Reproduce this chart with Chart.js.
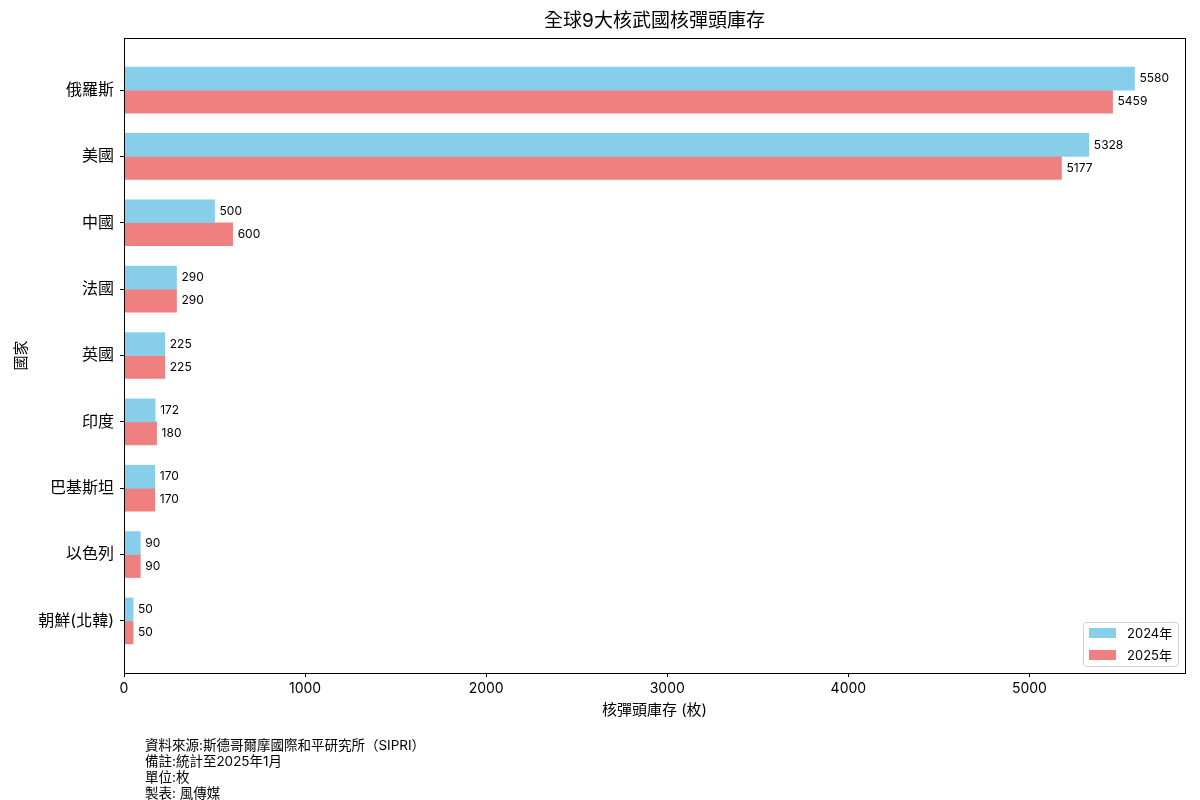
<!DOCTYPE html>
<html>
<head>
<meta charset="utf-8">
<script src="https://cdn.jsdelivr.net/npm/chart.js@4/dist/chart.umd.min.js"></script>
<style>
  html, body { margin: 0; padding: 0; background: #fff; }
  #wrap { width: 1200px; height: 800px; }
</style>
</head>
<body>
<div id="wrap"><canvas id="nukeChart" width="1200" height="800"></canvas></div>
<script>
const countries = ['俄羅斯', '美國', '中國', '法國', '英國', '印度', '巴基斯坦', '以色列', '朝鮮(北韓)'];
const stock2024 = [5580, 5328, 500, 290, 225, 172, 170, 90, 50];
const stock2025 = [5459, 5177, 600, 290, 225, 180, 170, 90, 50];
const xTicks = [0, 1000, 2000, 3000, 4000, 5000];
const notes = [
    '資料來源:斯德哥爾摩國際和平研究所（SIPRI）',
    '備註:統計至2025年1月',
    '單位:枚',
    '製表: 風傳媒',
];

const FONT = 'Inter, "Noto Sans CJK TC", sans-serif';
Chart.defaults.font.family = FONT;
Chart.defaults.color = '#000';

const toPoints = arr => arr.map((v, i) => ({ x: v, y: i }));

// box, title, value labels, legend and notes, matplotlib style
const extras = {
    id: 'extras',
    afterDatasetsDraw(chart) {
        const { ctx } = chart;
        ctx.save();
        ctx.font = '12px ' + FONT;
        ctx.fillStyle = '#000';
        ctx.textBaseline = 'middle';
        ctx.textAlign = 'left';
        chart.data.datasets.forEach((ds, di) => {
            chart.getDatasetMeta(di).data.forEach((bar, i) => {
                ctx.fillText(String(ds.data[i].x), bar.x + 5, bar.y);
            });
        });
        ctx.restore();
    },
    afterDraw(chart) {
        const { ctx, chartArea: a } = chart;
        ctx.save();
        ctx.strokeStyle = '#000';
        ctx.lineWidth = 1;
        ctx.strokeRect(Math.round(a.left) + 0.5, Math.round(a.top) + 0.5,
            Math.round(a.right - a.left), Math.round(a.bottom - a.top));

        ctx.fillStyle = '#000';
        ctx.textAlign = 'center';
        ctx.textBaseline = 'middle';
        ctx.font = '19px ' + FONT;
        ctx.fillText('全球9大核武國核彈頭庫存', (a.left + a.right) / 2, 21);

        // legend
        const lx = 1083, ly = 622, lw = 95, lh = 44;
        ctx.fillStyle = 'rgba(255,255,255,0.8)';
        ctx.strokeStyle = '#d0d0d0';
        ctx.beginPath();
        ctx.roundRect(lx + 0.5, ly + 0.5, lw, lh, 3);
        ctx.fill();
        ctx.stroke();
        ctx.font = '13px ' + FONT;
        ctx.textAlign = 'left';
        chart.data.datasets.forEach((ds, i) => {
            const cy = ly + 11 + i * 22;
            ctx.fillStyle = ds.backgroundColor;
            ctx.fillRect(lx + 6, cy - 5, 27, 10);
            ctx.fillStyle = '#000';
            ctx.fillText(ds.label, lx + 44, cy + 1);
        });

        // notes under the chart
        ctx.font = '13.5px ' + FONT;
        notes.forEach((t, i) => ctx.fillText(t, 145, 746 + i * 16));
        ctx.restore();
    }
};

new Chart(document.getElementById('nukeChart'), {
    type: 'bar',
    data: {
        datasets: [
            { label: '2024年', data: toPoints(stock2024), backgroundColor: '#87CEEB' },
            { label: '2025年', data: toPoints(stock2025), backgroundColor: '#F08080' },
        ],
    },
    options: {
        indexAxis: 'y',
        responsive: false,
        animation: false,
        devicePixelRatio: 1,
        barThickness: 23,
        layout: { padding: { top: 38, right: 15, bottom: 81, left: 0 } },
        plugins: {
            legend: { display: false },
            tooltip: { enabled: false },
            title: { display: false },
        },
        scales: {
            x: {
                type: 'linear',
                min: 0,
                max: 5859,
                afterBuildTicks: axis => { axis.ticks = xTicks.map(v => ({ value: v })); },
                afterFit: axis => { axis.height = 46; },
                grid: { drawOnChartArea: false, tickLength: 4, color: '#000' },
                border: { display: true, color: '#000' },
                ticks: { font: { size: 14 }, padding: 3, color: '#000', callback: v => String(v) },
                title: { display: true, text: '核彈頭庫存 (枚)', font: { size: 15 }, color: '#000', padding: 0 },
            },
            y: {
                type: 'linear',
                reverse: true,
                offset: false,
                min: -0.785,
                max: 8.785,
                afterBuildTicks: axis => { axis.ticks = countries.map((c, i) => ({ value: i })); },
                afterFit: axis => { axis.width = 124; },
                grid: { offset: false, drawOnChartArea: false, tickLength: 4, color: '#000' },
                border: { display: true, color: '#000' },
                ticks: {
                    font: { size: 16 },
                    padding: 6,
                    color: '#000',
                    callback: v => countries[v] ?? '',
                },
                title: { display: true, text: '國家', font: { size: 15 }, color: '#000', padding: { top: 12, bottom: 0 } },
            },
        },
    },
    plugins: [extras],
});
</script>
</body>
</html>
